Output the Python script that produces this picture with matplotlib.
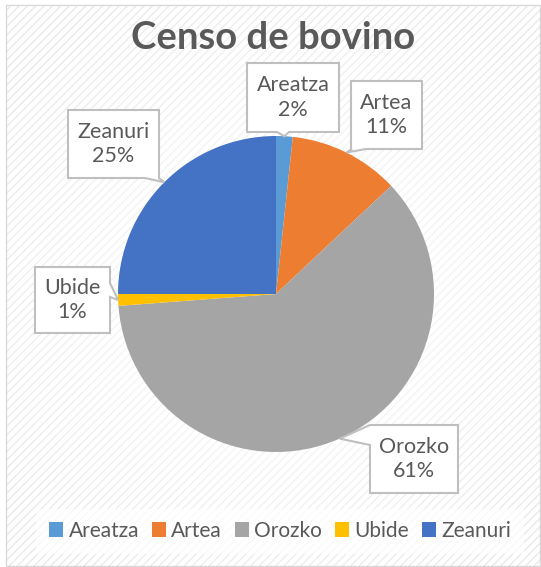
import numpy as np
import matplotlib
matplotlib.use("Agg")
import matplotlib.pyplot as plt
from matplotlib.patches import Rectangle, Polygon, Patch

plt.rcParams['font.family'] = ['Lato', 'DejaVu Sans']
plt.rcParams['hatch.linewidth'] = 1.0

# datos del grafico
municipios = ['Areatza', 'Artea', 'Orozko', 'Ubide', 'Zeanuri']
censo = [1.7, 11.3, 60.8, 1.2, 25.0]
colores = ['#5B9BD5', '#ED7D31', '#A5A5A5', '#FFC000', '#4472C4']
titulo = 'Censo de bovino'

W, H = 541, 567
GRIS = '#595959'


def py(y):
    """pasa coordenada de pixel (y hacia abajo) a coordenada del eje"""
    return H - y


fig = plt.figure(figsize=(W / 100, H / 100), dpi=100)
ax = fig.add_axes([0, 0, 1, 1])

# fondo rayado del area del grafico
fondo = Rectangle((6, py(566)), 534, 561, facecolor='white', edgecolor='#E9E9E9',
                  hatch='////', linewidth=0, zorder=0)
ax.add_patch(fondo)

# brillo blanco alrededor de la tarta
xx, yy = np.meshgrid(np.arange(W), np.arange(H))
r = np.sqrt((xx - 276) ** 2 + (yy - 294) ** 2)
alfa = np.clip(1.15 - r / 300, 0, 1) * 0.85
glow = np.zeros((H, W, 4))
glow[..., :3] = 1.0
glow[..., 3] = alfa
ax.imshow(glow, extent=(0, W, 0, H), origin='upper', zorder=0.5, interpolation='bilinear')

ax.add_patch(Rectangle((6, py(566)), 534, 561, facecolor='none', edgecolor='#D9D9D9',
                       linewidth=1.0, zorder=1))

# tarta
cx, cy, radio = 276, py(294), 158
wedges, _ = ax.pie(censo, colors=colores, startangle=90, counterclock=False,
                   center=(cx, cy), radius=radio, frame=True,
                   wedgeprops=dict(linewidth=0, zorder=2))

# etiquetas tipo globo: caja en pixeles, lado del piquito y su base
cajas = {
    'Areatza': ((247, 63, 339, 132), 'bottom', 277, 289),
    'Artea': ((351, 81, 422, 149), 'bottom', 352, 366),
    'Orozko': ((370, 425, 458, 493), 'left', 425, 445),
    'Ubide': ((35, 267, 110, 333), 'right', 283, 297),
    'Zeanuri': ((68, 110, 159, 178), 'bottom', 145, 159),
}

total = sum(censo)
for w, nombre, valor in zip(wedges, municipios, censo):
    (x0, y0, x1, y1), lado, b0, b1 = cajas[nombre]
    ang = np.deg2rad((w.theta1 + w.theta2) / 2)
    punta = (cx + radio * np.cos(ang), cy + radio * np.sin(ang))
    pts = [(x0, py(y0))]
    if lado == 'top':
        pts += [(b0, py(y0)), punta, (b1, py(y0))]
    pts.append((x1, py(y0)))
    if lado == 'right':
        pts += [(x1, py(b0)), punta, (x1, py(b1))]
    pts.append((x1, py(y1)))
    if lado == 'bottom':
        pts += [(b1, py(y1)), punta, (b0, py(y1))]
    pts.append((x0, py(y1)))
    if lado == 'left':
        pts += [(x0, py(b1)), punta, (x0, py(b0))]
    ax.add_patch(Polygon(pts, closed=True, facecolor='white', edgecolor='#BFBFBF',
                         linewidth=1.5, zorder=3))
    pct = round(valor / total * 100)
    ax.text((x0 + x1) / 2, py((y0 + y1) / 2), f'{nombre}\n{pct}%', ha='center',
            va='center', fontsize=15.5, color=GRIS, linespacing=1.3, zorder=4)

# titulo
ax.text(273, py(38), titulo, ha='center', va='center', fontsize=27.5,
        fontweight='bold', color=GRIS, zorder=4)

# leyenda
handles = [Patch(facecolor=c, edgecolor='none') for c in colores]
leg = ax.legend(handles, municipios, loc='center', bbox_to_anchor=(280, py(531)),
                bbox_transform=ax.transData, ncol=5, fontsize=15, frameon=True,
                handlelength=0.7, handleheight=0.7, handletextpad=0.25,
                columnspacing=0.6, borderpad=0.6, fancybox=False)
leg.get_frame().set_facecolor('white')
leg.get_frame().set_alpha(0.7)
leg.get_frame().set_edgecolor('none')
for t in leg.get_texts():
    t.set_color(GRIS)

ax.set_xlim(0, W)
ax.set_ylim(0, H)
ax.set_aspect('auto')
ax.axis('off')

fig.savefig('out.png', dpi=100, facecolor='white')
